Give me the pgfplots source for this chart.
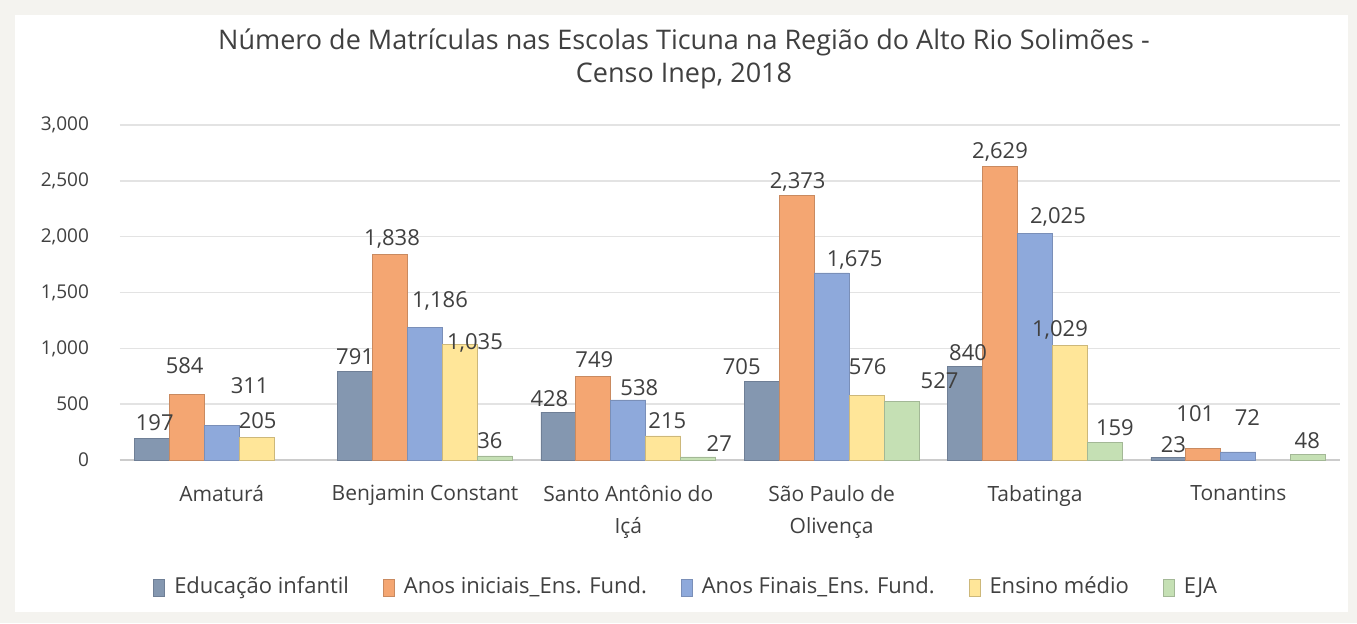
\documentclass[border=0pt]{standalone}
\usepackage{fontspec}
\setmainfont{Open Sans}
\usepackage{pgfplots}
\usepackage{pgfplotstable}
\pgfplotsset{compat=1.18}
\definecolor{bgc}{HTML}{F4F3EF}
\definecolor{cEI}{HTML}{8497B0}
\definecolor{cEId}{HTML}{6F7F96}
\definecolor{cAI}{HTML}{F4A672}
\definecolor{cAId}{HTML}{C98A60}
\definecolor{cAF}{HTML}{8EA9DB}
\definecolor{cAFd}{HTML}{7A8FB8}
\definecolor{cEM}{HTML}{FFE699}
\definecolor{cEMd}{HTML}{CDB87A}
\definecolor{cEJA}{HTML}{C5E0B4}
\definecolor{cEJAd}{HTML}{A3B896}
\definecolor{txt}{HTML}{404040}
% x = municipality index, y = value, dx/dy = label offset (pt)
\pgfplotstableread{
x y dx dy
0 197 1.5 0
1 791 0 0
2 428 -4.5 -1
3 705 -10 0
4 840 1.5 -1
5 23 2.5 -1
}\tEI
\pgfplotstableread{
x y dx dy
0 584 -1 7
1 1838 1 -0.5
2 749 0.5 1
3 2373 0.5 -1.5
4 2629 0 -1
5 101 -4 10
}\tAI
\pgfplotstableread{
x y dx dy
0 311 14 12
1 1186 7.5 5
2 538 5.5 -1.5
3 1675 11.5 -1.5
4 2025 11.5 0
5 72 4.5 9.5
}\tAF
\pgfplotstableread{
x y dx dy
0 205 0.5 0.5
1 1035 7.5 -7.5
2 215 2 0
3 576 0.5 7
4 1029 -5 -0.5
}\tEM
\pgfplotstableread{
x y dx dy
1 36 -2.5 0
2 27 10.5 -1
3 527 19 2.5
4 159 5 -0.5
5 48 -0.5 -0.5
}\tEJA
\begin{document}
\begin{tikzpicture}
\fill[bgc] (0pt,0pt) rectangle (678.5pt,311.5pt);
\useasboundingbox (0pt,0pt) rectangle (678.5pt,311.5pt);
\fill[white] (7.5pt,5.5pt) rectangle (674pt,304pt);
\node[align=center, font=\fontsize{13.5}{16.5}\selectfont, text=txt] at (342pt,282pt)
  {Número de Matrículas nas Escolas Ticuna na Região do Alto Rio Solimões -\\Censo Inep, 2018};
\begin{axis}[
  at={(60pt,81.5pt)}, anchor=south west,
  scale only axis, width=610pt, height=167.5pt,
  ybar=0pt, bar width=0.172,
  xmin=-0.5, xmax=5.5, ymin=0, ymax=3000,
  ytick={0,500,...,3000},
  xtick={0,1,2,3,4,5},
  xticklabels={Amaturá, Benjamin Constant, {Santo Antônio do\\Içá}, {São Paulo de\\Olivença}, Tabatinga, Tonantins},
  xticklabel style={align=center, font=\fontsize{10.5}{16}\selectfont, text=txt, yshift=-9pt},
  yticklabel style={font=\fontsize{9.5}{11}\selectfont, text=txt, xshift=-12pt},
  /pgf/number format/1000 sep={,},
  /pgf/number format/assume math mode=true,
  scaled y ticks=false,
  axis x line*=bottom, axis y line*=left,
  y axis line style={draw=none},
  x axis line style={draw=gray!40, line width=0.8pt},
  major tick length=0pt,
  ymajorgrids, grid style={gray!22, line width=0.8pt},
  visualization depends on={\thisrow{dx} \as \dx},
  visualization depends on={\thisrow{dy} \as \dy},
  nodes near coords,
  every node near coord/.append style={font=\fontsize{11}{13}\selectfont, text=txt,
     xshift=\dx*1pt, yshift=\dy*1pt},
  legend columns=5,
  legend style={at={(0.465,-0.379)}, anchor=center, draw=none, fill=none,
    font=\fontsize{11}{13}\selectfont, text=txt,
    /tikz/every even column/.append style={column sep=15pt},
    /tikz/every odd column/.append style={column sep=2.5pt}},
  legend image code/.code={\draw[#1] (0pt,-4.5pt) rectangle (5.5pt,4pt);},
]
\addplot[fill=cEI, draw=cEId] table[x=x,y=y] {\tEI};
\addplot[fill=cAI, draw=cAId] table[x=x,y=y] {\tAI};
\addplot[fill=cAF, draw=cAFd] table[x=x,y=y] {\tAF};
\addplot[fill=cEM, draw=cEMd] table[x=x,y=y] {\tEM};
\addplot[fill=cEJA, draw=cEJAd] table[x=x,y=y] {\tEJA};
\legend{Educação infantil, Anos iniciais\_Ens. Fund., Anos Finais\_Ens. Fund., Ensino médio, EJA}
\end{axis}
\end{tikzpicture}
\end{document}
